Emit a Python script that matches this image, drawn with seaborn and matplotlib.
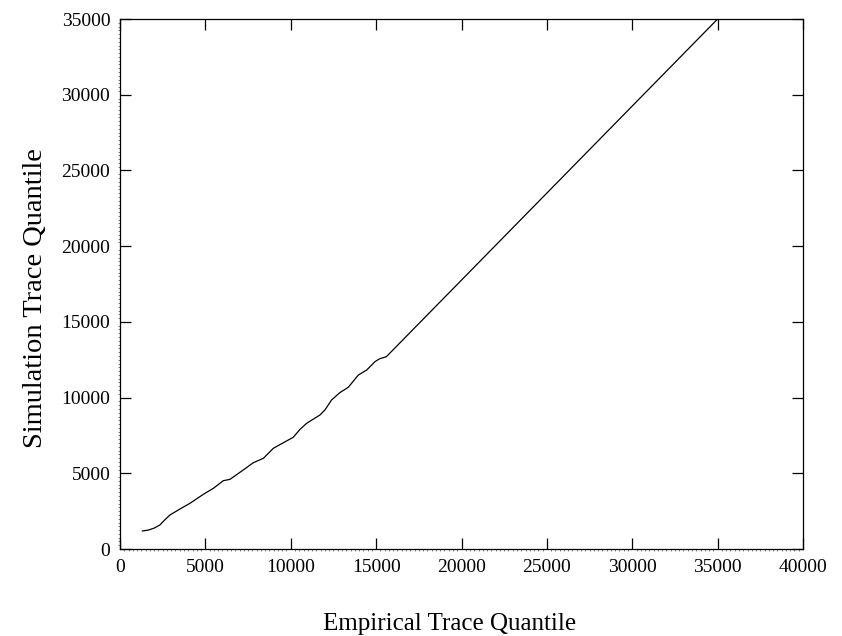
"""
Q-Q plot of simulated versus empirical trace quantiles.
"""

import matplotlib

matplotlib.use("Agg")
import matplotlib.pyplot as plt
import pandas as pd
import seaborn as sns
from matplotlib.ticker import MultipleLocator

# quantile pairs
empirical_q = [
    1300, 1660, 2000, 2340, 2600, 2930, 3510, 4100, 4880, 5470, 6050, 6440,
    7220, 7810, 8400, 8980, 9570, 10150, 10540, 10930, 11710, 12000, 12390,
    12880, 13370, 13960, 14450, 14930, 15200, 15600, 35000,
]
simulation_q = [
    1190, 1250, 1380, 1590, 1900, 2250, 2640, 3020, 3610, 4010, 4510, 4600,
    5220, 5700, 5990, 6650, 7020, 7380, 7900, 8300, 8850, 9180, 9840,
    10330, 10680, 11490, 11820, 12370, 12560, 12700, 35000,
]

x_ticks = [0, 5000, 10000, 15000, 20000, 25000, 30000, 35000, 40000]
y_ticks = [0, 5000, 10000, 15000, 20000, 25000, 30000, 35000]

df = pd.DataFrame({"empirical": empirical_q, "simulation": simulation_q})

sns.set_style("ticks")
plt.rcParams["font.family"] = ["Liberation Serif", "DejaVu Serif"]
plt.rcParams["text.color"] = "black"
plt.rcParams["axes.labelcolor"] = "black"

fig = plt.figure(figsize=(8.42, 6.36), dpi=100)
ax = fig.add_axes([120 / 842, 1 - 549 / 636, 683 / 842, 530 / 636])

sns.lineplot(data=df, x="empirical", y="simulation", color="black",
             linewidth=0.9, sort=False, ax=ax)

ax.set_xlim(0, 40000)
ax.set_ylim(0, 35000)
ax.set_xticks(x_ticks)
ax.set_yticks(y_ticks)
ax.tick_params(axis="both", which="major", direction="in", length=8,
               width=0.9, labelsize=14, top=True, right=True, pad=7,
               colors="black")
ax.xaxis.set_minor_locator(MultipleLocator(250))
ax.yaxis.set_minor_locator(MultipleLocator(250))
ax.tick_params(axis="both", which="minor", direction="out", length=1.5,
               width=0.5, colors="#555555")

for spine in ax.spines.values():
    spine.set_visible(True)
    spine.set_color("black")
    spine.set_linewidth(0.9)

ax.set_xlabel("Empirical Trace Quantile", fontsize=18, labelpad=27,
              color="black")
ax.set_ylabel("Simulation Trace Quantile", fontsize=20.5, labelpad=10,
              color="black")
# labels sit slightly off-centre in the original
ax.xaxis.label.set_x(0.483)
ax.yaxis.label.set_y(0.474)

fig.savefig("out.png", dpi=100, facecolor="white")
